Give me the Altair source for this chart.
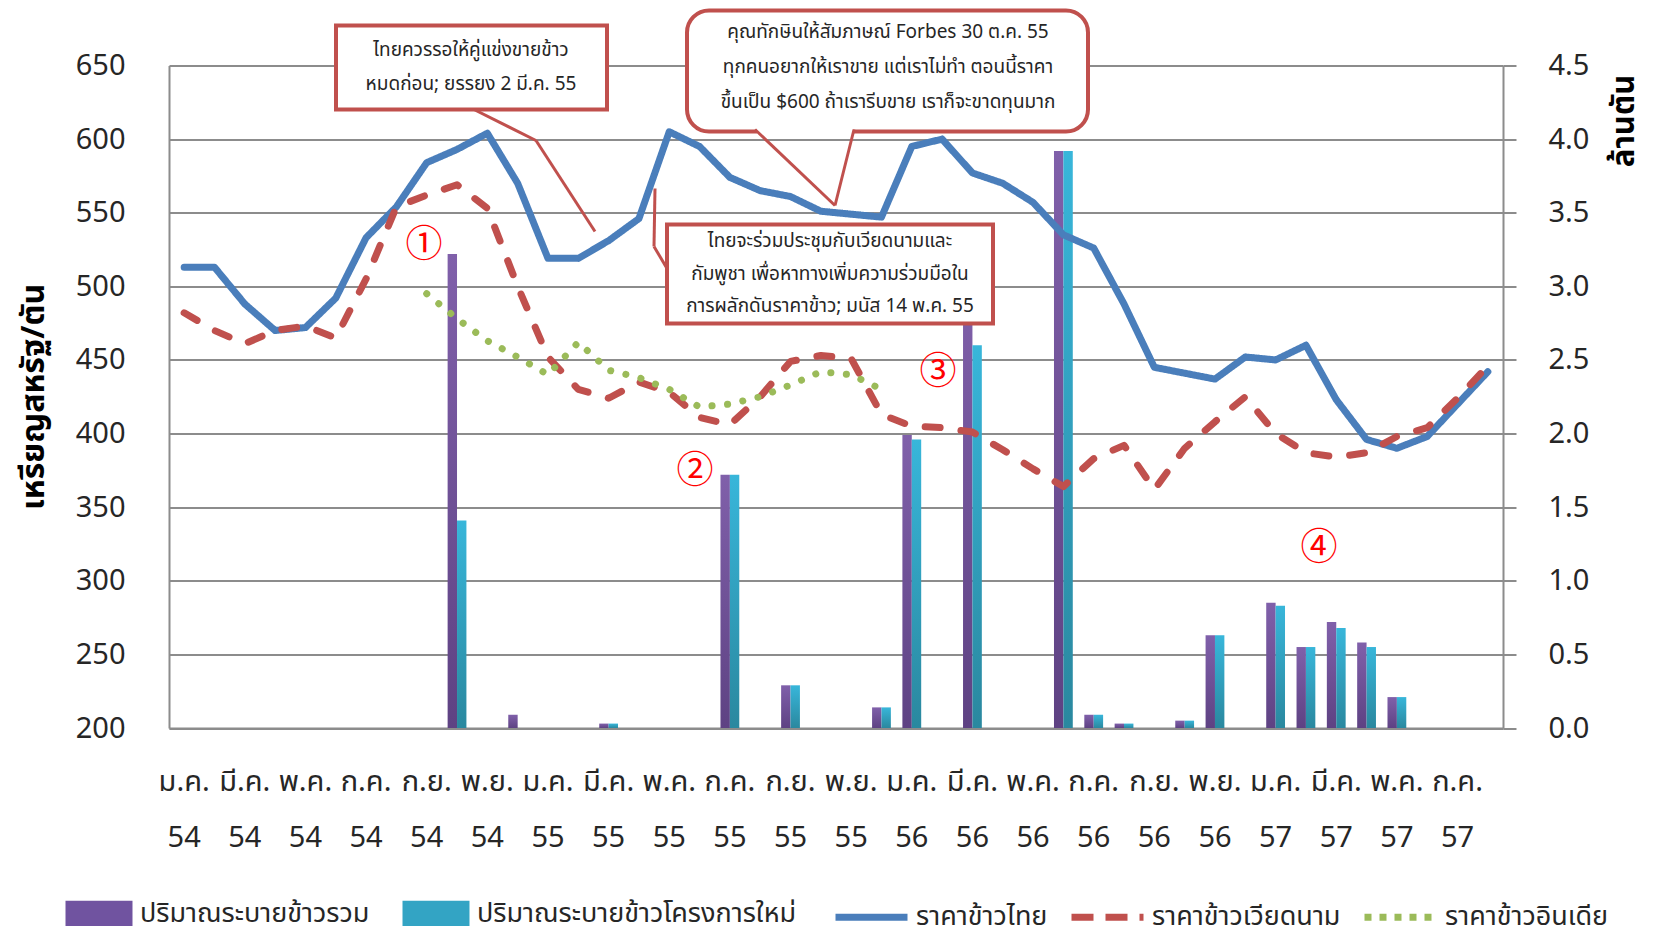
import altair as alt
import pandas as pd

# ---------------- data ----------------
MONTHS = ['ม.ค.', 'ก.พ.', 'มี.ค.', 'เม.ย.', 'พ.ค.', 'มิ.ย.',
          'ก.ค.', 'ส.ค.', 'ก.ย.', 'ต.ค.', 'พ.ย.', 'ธ.ค.']
YEARS = ['54', '55', '56', '57']
PERIODS = [f"{m} {y}" for y in YEARS for m in MONTHS][:44]   # ม.ค. 54 .. ส.ค. 57

S_THAI = 'ราคาข้าวไทย'
S_VN = 'ราคาข้าวเวียดนาม'
S_IN = 'ราคาข้าวอินเดีย'
S_TOTAL = 'ปริมาณระบายข้าวรวม'
S_NEW = 'ปริมาณระบายข้าวโครงการใหม่'

thai_price = [513, 513, 488, 470, 472, 492, 533, 554, 584, 593, 604, 570,
              519, 519, 531, 546, 605, 595, 574, 565, 561, 551, 549, 547,
              595, 600, 577, 570, 557, 535, 526, 488, 445, 441, 437, 452,
              450, 460, 423, 396, 390, 398, 420, 442]
vietnam_price = [482, 470, 461, 470, 473, 465, 505, 554, 562, 569, 553, 500,
                 452, 430, 424, 435, 428, 411, 406, 425, 449, 453, 451, 413,
                 405, 404, 401, 389, 376, 364, 383, 392, 362, 390, 408, 425,
                 400, 387, 384, 387, 398, 404, 424, 446]
india_first = 8   # first month with an India price (ก.ย. 54)
india_price = [495, 478, 463, 452, 440, 462, 443, 438, 430, 418, 420, 425,
               433, 442, 440, 430]

bar_month = [9, 11, 14, 18, 20, 23, 24, 26, 29, 30, 31, 33, 34, 36, 37, 38, 39, 40]
vol_total = [3.22, 0.09, 0.03, 1.72, 0.29, 0.14, 1.99, 3.00, 3.92, 0.09, 0.03,
             0.05, 0.63, 0.85, 0.55, 0.72, 0.58, 0.21]
vol_new = [1.41, 0.00, 0.03, 1.72, 0.29, 0.14, 1.96, 2.60, 3.92, 0.09, 0.03,
           0.05, 0.63, 0.83, 0.55, 0.68, 0.55, 0.21]

PRICE_TICKS = list(range(200, 651, 50))
VOL_TICKS = [0, 0.5, 1, 1.5, 2, 2.5, 3, 3.5, 4, 4.5]

# ---------------- tables ----------------
rows = []
for i, v in enumerate(thai_price):
    rows.append({'period': PERIODS[i], 'idx': i, 'series': S_THAI, 'price': v})
for i, v in enumerate(vietnam_price):
    rows.append({'period': PERIODS[i], 'idx': i, 'series': S_VN, 'price': v})
for k, v in enumerate(india_price):
    rows.append({'period': PERIODS[india_first + k], 'idx': india_first + k,
                 'series': S_IN, 'price': v})
lines_df = pd.DataFrame(rows)
legend_df = lines_df.groupby('series', as_index=False).first()

brows = []
for m, a, b in zip(bar_month, vol_total, vol_new):
    if a > 0:
        brows.append({'period': PERIODS[m], 'series': S_TOTAL, 'vol': a})
    if b > 0:
        brows.append({'period': PERIODS[m], 'series': S_NEW, 'vol': b})
bars_df = pd.DataFrame(brows)
one = pd.DataFrame({'k': [0]})

# ---------------- styles ----------------
FONT = "Noto Sans Thai, Noto Sans, sans-serif"
GRID = '#8c8c8c'
RED = '#C0504D'
BLUE = '#4A7EBB'
GREEN = '#9BBB59'
TXT = '#262626'

x_enc = alt.X(
    'period:N',
    scale=alt.Scale(domain=PERIODS, paddingInner=0.38, paddingOuter=0.19),
    axis=alt.Axis(values=PERIODS[::2], labelExpr="split(datum.label, ' ')",
                  labelLineHeight=56, labelFontSize=29, labelColor=TXT,
                  labelFont=FONT, labelPadding=39, labelAngle=0,
                  ticks=False, domainColor=GRID, domainWidth=2, grid=False),
    title=None,
)

y_vol = alt.Y(
    'vol:Q',
    scale=alt.Scale(domain=[0, 4.5], nice=False, zero=True),
    axis=alt.Axis(orient='right', values=VOL_TICKS, format='.1f', grid=False,
                  domainColor=GRID, domainWidth=2, ticks=True, tickSize=13,
                  tickColor=GRID, tickWidth=2, labelPadding=32,
                  labelFontSize=29, labelColor=TXT, labelFont=FONT,
                  titleFont=FONT, titleFontSize=31, titleFontWeight='bold',
                  titleColor='#000', titleAngle=270, titleX=121, titleY=55,
                  titleAlign='center', titleBaseline='middle'),
    title='ล้านตัน',
)

y_price = alt.Y(
    'price:Q',
    scale=alt.Scale(domain=[200, 650], nice=False, zero=False),
    axis=alt.Axis(orient='left', values=PRICE_TICKS, grid=True,
                  gridColor=GRID, gridWidth=2, domainColor=GRID,
                  domainWidth=2, ticks=False, labelPadding=44,
                  labelFontSize=29, labelColor=TXT, labelFont=FONT,
                  titleFont=FONT, titleFontSize=32, titleFontWeight='bold',
                  titleColor='#000', titleAngle=270, titleX=-136, titleY=331,
                  titleAlign='center', titleBaseline='middle'),
    title='เหรียญสหรัฐ/ตัน',
)

x_off = alt.XOffset('series:N', scale=alt.Scale(domain=[S_TOTAL, S_NEW],
                                                 paddingInner=0, paddingOuter=0))

grad_purple = alt.LinearGradient(
    gradient='linear', x1=0, x2=0, y1=0, y2=1,
    stops=[alt.GradientStop(color='#8060AA', offset=0),
           alt.GradientStop(color='#5E4283', offset=1)])
grad_cyan = alt.LinearGradient(
    gradient='linear', x1=0, x2=0, y1=0, y2=1,
    stops=[alt.GradientStop(color='#38B6DA', offset=0),
           alt.GradientStop(color='#2A889F', offset=1)])

bar_total = alt.Chart(bars_df).transform_filter(
    alt.datum.series == S_TOTAL).mark_bar(color=grad_purple).encode(
    x=x_enc, xOffset=x_off, y=y_vol)
bar_new = alt.Chart(bars_df).transform_filter(
    alt.datum.series == S_NEW).mark_bar(color=grad_cyan).encode(
    x=x_enc, xOffset=x_off, y=y_vol)

# wide, flat legend swatches drawn from a compact symbol box
bar_legend = alt.Legend(
    title=None, orient='none', legendX=-87, legendY=831, direction='horizontal',
    symbolType='M-2,-0.76H2V0.76H-2Z', symbolSize=1122, symbolStrokeWidth=0,
    symbolOpacity=1, labelFontSize=27, labelFont=FONT, labelColor=TXT,
    labelOffset=24, columnPadding=32, labelLimit=600)
legend_pts = alt.Chart(bars_df).mark_point(filled=True, size=0).encode(
    fill=alt.Fill('series:N',
                  scale=alt.Scale(domain=[S_TOTAL, S_NEW], range=['#7053A0', '#33A4C4']),
                  legend=bar_legend))

bars_group = alt.layer(bar_total, bar_new, legend_pts)


def price_line(series, color, dash):
    return alt.Chart(lines_df).transform_filter(
        alt.datum.series == series).mark_line(
        strokeWidth=7, strokeCap='round', strokeJoin='round', color=color,
        strokeDash=dash).encode(x=x_enc, y=y_price, order=alt.Order('idx:Q'))


line_legend = alt.Legend(
    title=None, orient='none', legendX=681, legendY=830, direction='horizontal',
    symbolType='M-2,0H2', symbolSize=1296, symbolStrokeWidth=7, symbolOpacity=1,
    labelFontSize=27, labelFont=FONT, labelColor=TXT, labelOffset=23,
    columnPadding=9, labelLimit=600)
# single-point lines: they draw nothing but carry the legend
line_legend_layer = alt.Chart(legend_df).mark_line(strokeWidth=7).encode(
    x=x_enc, y=y_price,
    stroke=alt.Stroke('series:N',
                      scale=alt.Scale(domain=[S_THAI, S_VN, S_IN], range=[BLUE, RED, GREEN]),
                      legend=line_legend),
    strokeDash=alt.StrokeDash('series:N',
                              scale=alt.Scale(domain=[S_THAI, S_VN, S_IN],
                                              range=[[1, 0], [22, 12], [7, 8]]),
                              legend=line_legend),
)


# ---------------- annotations (pixel positions in the plot area) ----------------
def box(x1, x2, y1, y2, radius=0):
    return alt.Chart(one).mark_rect(fill='white', stroke=RED, strokeWidth=4,
                                    cornerRadius=radius).encode(
        x=alt.value(x1), x2=alt.value(x2), y=alt.value(y1), y2=alt.value(y2))


def seg(x1, y1, x2, y2, color=RED, w=3):
    return alt.Chart(one).mark_rule(color=color, strokeWidth=w).encode(
        x=alt.value(x1), x2=alt.value(x2), y=alt.value(y1), y2=alt.value(y2))


def label(x, y, text, size=19, color=TXT, font=FONT):
    return alt.Chart(one).mark_text(fontSize=size, color=color, font=font,
                                    align='center', baseline='middle').encode(
        x=alt.value(x), y=alt.value(y), text=alt.value(text))


CIRC = dict(size=37, color='#FF0000', font='Noto Sans CJK JP')
notes = [
    # box 1
    seg(303, 43, 367, 75), seg(367, 75, 426, 166),
    box(167, 438, -40, 44),
    label(302, -16, 'ไทยควรรอให้คู่แข่งขายข้าว'),
    label(302, 18, 'หมดก่อน; ยรรยง 2 มี.ค. 55'),
    # box 2 (speech bubble)
    box(518, 919, -55, 66, radius=22),
    seg(588, 66, 684, 66, color='white', w=6),
    seg(586, 64, 666, 140), seg(666, 140, 685, 64),
    label(719, -34, 'คุณทักษินให้สัมภาษณ์ Forbes 30 ต.ค. 55'),
    label(719, 1, 'ทุกคนอยากให้เราขาย แต่เราไม่ทำ ตอนนี้ราคา'),
    label(719, 36, 'ขึ้นเป็น $600 ถ้าเรารีบขาย เราก็จะขาดทุนมาก'),
    # box 3
    seg(486, 123, 485, 181), seg(485, 181, 501, 208),
    box(498, 824, 159, 258),
    label(661, 175, 'ไทยจะร่วมประชุมกับเวียดนามและ'),
    label(661, 208, 'กัมพูชา เพื่อหาทางเพิ่มความร่วมมือใน'),
    label(661, 240, 'การผลักดันราคาข้าว; มนัส 14 พ.ค. 55'),
    # circled numbers
    label(255, 180, '①', **CIRC),
    label(526, 406, '②', **CIRC),
    label(769, 307, '③', **CIRC),
    label(1150, 483, '④', **CIRC),
]

lines_group = alt.layer(
    price_line(S_THAI, BLUE, [1, 0]),
    price_line(S_VN, RED, [15, 21]),
    price_line(S_IN, GREEN, [0.1, 15.5]),
    line_legend_layer,
    *notes)

chart = alt.layer(bars_group, lines_group).resolve_scale(
    y='independent'
).properties(
    width=1334, height=662.5,
    autosize=alt.AutoSizeParams(type='none'),
    padding={'left': 161, 'top': 57.5, 'right': 146, 'bottom': 198},
).configure(font=FONT).configure_view(strokeWidth=0)

chart.save("out.html", embed_options={"renderer": "svg", "actions": False})
